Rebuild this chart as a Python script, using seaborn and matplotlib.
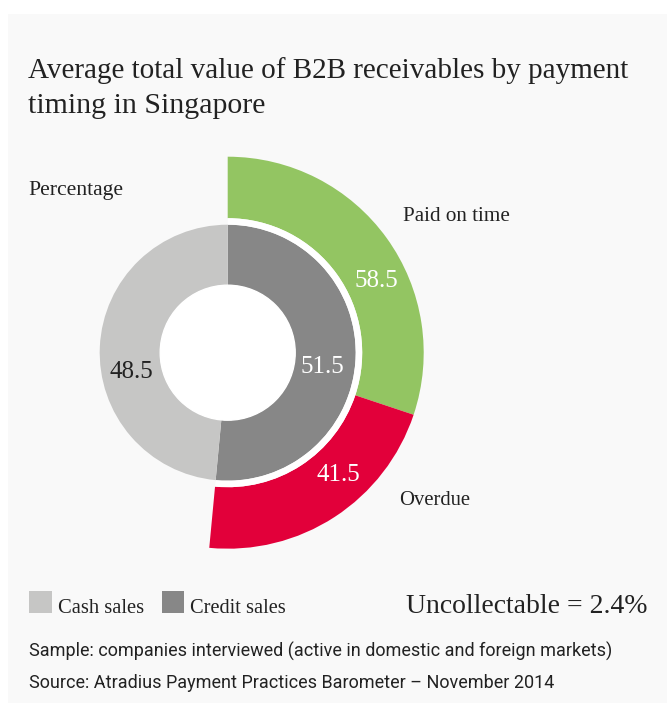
import matplotlib
matplotlib.use("Agg")
import matplotlib.pyplot as plt
from matplotlib.patches import Rectangle
import seaborn as sns

# ---- data ----
sales_labels = ["Credit sales", "Cash sales"]
sales_values = [51.5, 48.5]
timing_labels = ["Paid on time", "Overdue"]
timing_values = [58.5, 41.5]
uncollectable = 2.4
title_lines = ["Average total value of B2B receivables by payment", "timing in Singapore"]
footer_lines = ["Sample: companies interviewed (active in domestic and foreign markets)",
                "Source: Atradius Payment Practices Barometer \u2013 November 2014"]

sns.set_theme(style="white")
plt.rcParams["font.family"] = ["Liberation Serif", "DejaVu Serif"]

C_CASH = "#c6c6c5"
C_CREDIT = "#878787"
C_GREEN = "#93c562"
C_RED = "#e2003a"
C_BG = "#f9f9f9"
C_TXT = "#222222"

W, H = 667, 719
fig = plt.figure(figsize=(W / 100, H / 100), dpi=100, facecolor="white")
ax = fig.add_axes([0, 0, 1, 1])
ax.set_xlim(0, W)
ax.set_ylim(0, H)
ax.axis("off")

def Y(y):
    return H - y

ax.add_patch(Rectangle((8, Y(703)), W - 8, 703 - 14, facecolor=C_BG, edgecolor="none", zorder=0))

renderer = fig.canvas.get_renderer()

def put(x, y, s, width, **kw):
    t = ax.text(x, Y(y), s, fontsize=10, **kw)
    bb = t.get_window_extent(renderer)
    t.set_fontsize(10 * width / bb.width)
    return t

cx, cy = 227.7, Y(352.7)

# inner ring: credit (clockwise from top), then cash
ax.pie(sales_values, radius=128, center=(cx, cy), startangle=90, counterclock=False,
       colors=[C_CREDIT, C_CASH], wedgeprops=dict(width=128 - 67.5, linewidth=0))
ax.add_patch(plt.Circle((cx, cy), 67.5, color="white", zorder=3))

credit = sales_values[0]
outer_sizes = [credit * timing_values[0] / 100, credit * timing_values[1] / 100, sales_values[1]]
ax.pie(outer_sizes, radius=196, center=(cx, cy), startangle=90, counterclock=False,
       colors=[C_GREEN, C_RED, "none"], wedgeprops=dict(width=196 - 134.5, linewidth=0))
ax.pie(outer_sizes, radius=134.5, center=(cx, cy), startangle=90, counterclock=False,
       colors=["white", "white", "none"], wedgeprops=dict(width=6.5, linewidth=0))
ax.set_xlim(0, W)
ax.set_ylim(0, H)
ax.set_aspect("equal")

# value labels
num_fs = 18
ax.text(376, Y(281), f"{timing_values[0]:.1f}", color="white", fontsize=num_fs, ha="center", va="center")
ax.text(338, Y(475), f"{timing_values[1]:.1f}", color="white", fontsize=num_fs, ha="center", va="center")
ax.text(322, Y(367), f"{sales_values[0]:.1f}", color="white", fontsize=num_fs, ha="center", va="center")
ax.text(131, Y(372), f"{sales_values[1]:.1f}", color=C_TXT, fontsize=num_fs, ha="center", va="center")

# text
put(28, 78, title_lines[0], 600, color=C_TXT, ha="left", va="baseline")
put(28, 113, title_lines[1], 237, color=C_TXT, ha="left", va="baseline")
put(28, 195, "Percentage", 95, color=C_TXT, ha="left", va="baseline")
put(403, 221, timing_labels[0], 107, color=C_TXT, ha="left", va="baseline")
put(399, 505, timing_labels[1], 71, color=C_TXT, ha="left", va="baseline")

# legend
ax.add_patch(Rectangle((29, Y(613)), 23, 22, facecolor=C_CASH, edgecolor="none"))
ax.add_patch(Rectangle((162, Y(613)), 22, 22, facecolor=C_CREDIT, edgecolor="none"))
put(58, 613, sales_labels[1], 86, color=C_TXT, ha="left", va="baseline")
put(190, 613, sales_labels[0], 96, color=C_TXT, ha="left", va="baseline")
put(406, 613, f"Uncollectable = {uncollectable}%", 242, color=C_TXT, ha="left", va="baseline")

# footer
put(29, 657, footer_lines[0], 585, color=C_TXT, ha="left", va="baseline", family=["Roboto", "DejaVu Sans"])
put(29, 688, footer_lines[1], 526, color=C_TXT, ha="left", va="baseline", family=["Roboto", "DejaVu Sans"])

fig.savefig("out.png", dpi=100, facecolor="white")
